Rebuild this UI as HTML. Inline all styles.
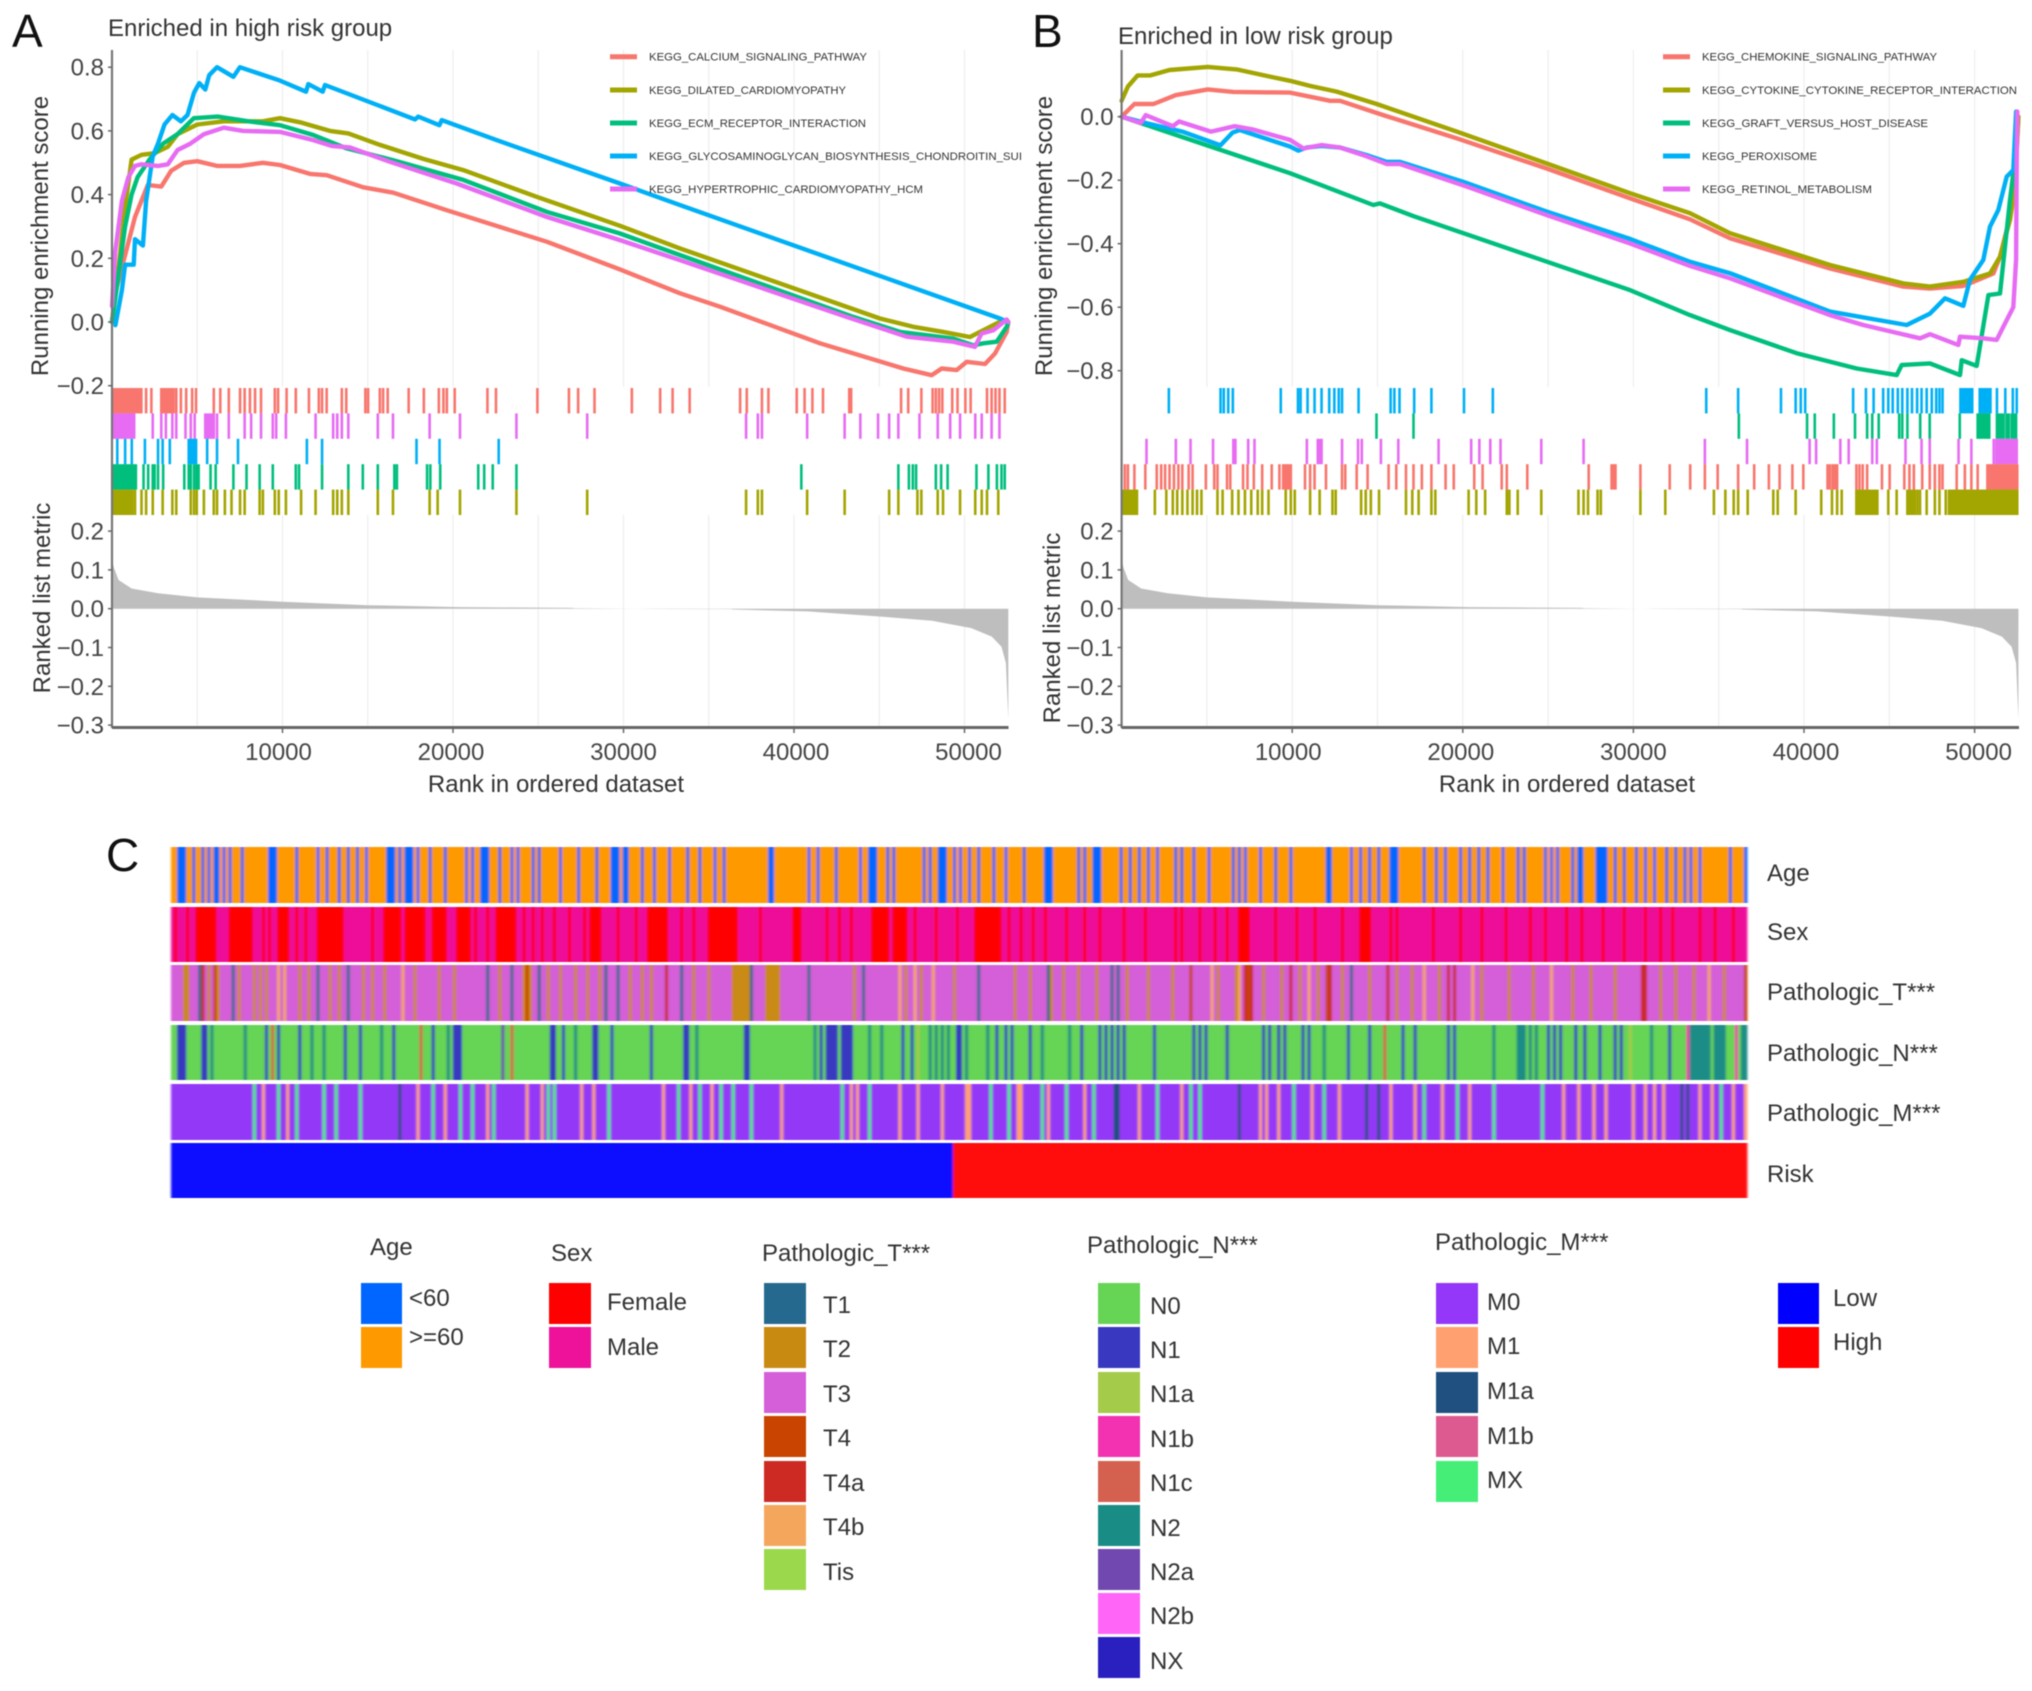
<!DOCTYPE html>
<html lang="en">
<head>
<meta charset="utf-8">
<title>GSEA enrichment and clinical heatmap</title>
<style>
html,body{margin:0;padding:0;background:#fff;}
svg{display:block;font-family:"Liberation Sans",sans-serif;filter:blur(0.55px);}
.tick{font-size:24px;fill:#444;}
.axt{font-size:24px;fill:#333;}
.ttl{font-size:24px;fill:#333;}
.let{font-size:46px;fill:#111;}
.key{font-size:11px;fill:#333;}
.lab{font-size:24px;fill:#333;}
</style>
</head>
<body>
<svg id="figure" xmlns="http://www.w3.org/2000/svg" width="2032" height="1691" viewBox="0 0 2032 1691">
<defs>
<filter id="stripeBlur" x="-1%" y="0%" width="102%" height="100%"><feGaussianBlur stdDeviation="1.1 0"/></filter>
</defs>
<rect x="0" y="0" width="2032" height="1691" fill="#fff"/>
<g id="panelA"></g>
<g id="panelB"></g>
<g id="heatmap" filter="url(#stripeBlur)"></g>

<text class="let" x="12" y="47">A</text>
<text class="let" x="1032" y="47">B</text>
<text class="let" x="106" y="871">C</text>
<text class="ttl" x="108" y="36">Enriched in high risk group</text>
<text class="ttl" x="1118" y="44">Enriched in low risk group</text>
<text class="axt" transform="translate(48,236) rotate(-90)" text-anchor="middle">Running enrichment score</text>
<text class="axt" transform="translate(50,598) rotate(-90)" text-anchor="middle">Ranked list metric</text>
<text class="axt" x="556" y="792" text-anchor="middle">Rank in ordered dataset</text>
<text class="axt" transform="translate(1052,236) rotate(-90)" text-anchor="middle">Running enrichment score</text>
<text class="axt" transform="translate(1060,628) rotate(-90)" text-anchor="middle">Ranked list metric</text>
<text class="axt" x="1567" y="792" text-anchor="middle">Rank in ordered dataset</text>

<g>
<text class="lab" x="1767" y="881">Age</text>
<text class="lab" x="1767" y="940">Sex</text>
<text class="lab" x="1767" y="1000">Pathologic_T***</text>
<text class="lab" x="1767" y="1061">Pathologic_N***</text>
<text class="lab" x="1767" y="1121">Pathologic_M***</text>
<text class="lab" x="1767" y="1182">Risk</text>
</g>

<g>
<text class="lab" x="370" y="1255">Age</text>
<rect x="361" y="1283" width="41" height="41" fill="#0066ff"/>
<rect x="361" y="1327" width="41" height="41" fill="#ff9900"/>
<text class="lab" x="409" y="1306">&lt;60</text>
<text class="lab" x="409" y="1345">&gt;=60</text>
</g>
<g>
<text class="lab" x="551" y="1261">Sex</text>
<rect x="549" y="1283" width="42" height="41" fill="#ff0000"/>
<rect x="549" y="1327" width="42" height="41" fill="#ee1199"/>
<text class="lab" x="607" y="1310">Female</text>
<text class="lab" x="607" y="1355">Male</text>
</g>
<g>
<text class="lab" x="762" y="1261">Pathologic_T***</text>
<rect x="764" y="1283" width="42" height="41" fill="#256a8e"/>
<rect x="764" y="1327" width="42" height="41" fill="#c98a12"/>
<rect x="764" y="1372" width="42" height="41" fill="#d45fd8"/>
<rect x="764" y="1416" width="42" height="41" fill="#c84400"/>
<rect x="764" y="1461" width="42" height="41" fill="#cc2a22"/>
<rect x="764" y="1505" width="42" height="41" fill="#f4a75c"/>
<rect x="764" y="1549" width="42" height="41" fill="#9cd84c"/>
<text class="lab" x="823" y="1313">T1</text>
<text class="lab" x="823" y="1357">T2</text>
<text class="lab" x="823" y="1402">T3</text>
<text class="lab" x="823" y="1446">T4</text>
<text class="lab" x="823" y="1491">T4a</text>
<text class="lab" x="823" y="1535">T4b</text>
<text class="lab" x="823" y="1580">Tis</text>
</g>
<g>
<text class="lab" x="1087" y="1253">Pathologic_N***</text>
<rect x="1098" y="1283" width="42" height="41" fill="#66d455"/>
<rect x="1098" y="1327" width="42" height="41" fill="#3838c0"/>
<rect x="1098" y="1372" width="42" height="41" fill="#a4cc4a"/>
<rect x="1098" y="1416" width="42" height="41" fill="#f232b0"/>
<rect x="1098" y="1461" width="42" height="41" fill="#d46050"/>
<rect x="1098" y="1505" width="42" height="41" fill="#1a8c86"/>
<rect x="1098" y="1549" width="42" height="41" fill="#7048b0"/>
<rect x="1098" y="1593" width="42" height="41" fill="#ff66f8"/>
<rect x="1098" y="1637" width="42" height="41" fill="#2a20c0"/>
<text class="lab" x="1150" y="1314">N0</text>
<text class="lab" x="1150" y="1358">N1</text>
<text class="lab" x="1150" y="1402">N1a</text>
<text class="lab" x="1150" y="1447">N1b</text>
<text class="lab" x="1150" y="1491">N1c</text>
<text class="lab" x="1150" y="1536">N2</text>
<text class="lab" x="1150" y="1580">N2a</text>
<text class="lab" x="1150" y="1624">N2b</text>
<text class="lab" x="1150" y="1669">NX</text>
</g>
<g>
<text class="lab" x="1435" y="1250">Pathologic_M***</text>
<rect x="1436" y="1283" width="42" height="41" fill="#9437f8"/>
<rect x="1436" y="1327" width="42" height="41" fill="#ffa070"/>
<rect x="1436" y="1372" width="42" height="41" fill="#1f5080"/>
<rect x="1436" y="1416" width="42" height="41" fill="#dd5a90"/>
<rect x="1436" y="1461" width="42" height="41" fill="#44ee77"/>
<text class="lab" x="1487" y="1310">M0</text>
<text class="lab" x="1487" y="1354">M1</text>
<text class="lab" x="1487" y="1399">M1a</text>
<text class="lab" x="1487" y="1444">M1b</text>
<text class="lab" x="1487" y="1488">MX</text>
</g>
<g>
<rect x="1778" y="1283" width="41" height="41" fill="#0000ff"/>
<rect x="1778" y="1327" width="41" height="41" fill="#ff0000"/>
<text class="lab" x="1833" y="1306">Low</text>
<text class="lab" x="1833" y="1350">High</text>
</g>
</svg>

<script>
/* ---------- shared axis values ---------- */
const rankTicks = [10000, 20000, 30000, 40000, 50000];
const rankGrid = [5000, 10000, 15000, 20000, 25000, 30000, 35000, 40000, 45000, 50000];
const scoreTicksA = [0.8, 0.6, 0.4, 0.2, 0.0, -0.2];
const scoreTicksB = [0.0, -0.2, -0.4, -0.6, -0.8];
const metricTicks = [0.2, 0.1, 0.0, -0.1, -0.2, -0.3];
const metricRanks = [0, 120, 385, 1150, 2700, 5000, 10000, 15000, 20400, 27000, 27100, 32000, 36300, 36400, 40800, 45000, 48100, 50400, 51600, 52170, 52430, 52570];
const metricValues = [0.125, 0.105, 0.074, 0.052, 0.04, 0.029, 0.018, 0.009, 0.004, 0.002, 0.0012, -0.0008, -0.001, -0.002, -0.007, -0.02, -0.031, -0.05, -0.072, -0.098, -0.14, -0.285];

/* ---------- panel A curves ---------- */
const calciumRanks = [0,190,770,1350,2100,2890,3470,4230,5000,6160,7500,8850,9853,11613,12590,14740,16500,19628,25493,29795,33313,35660,41525,46413,48075,48660,49540,50128,51200,51790,52473,52570];
const calciumScores = [0,0.09,0.21,0.33,0.43,0.425,0.475,0.50,0.505,0.49,0.49,0.50,0.493,0.465,0.461,0.423,0.406,0.351,0.252,0.165,0.09,0.048,-0.067,-0.146,-0.167,-0.146,-0.151,-0.125,-0.132,-0.099,-0.031,0];
const dilatedRanks = [0,385,770,1150,1730,2500,3270,3850,5000,6550,8850,9853,11026,12786,13860,15718,18260,20605,24907,29795,33313,45044,47000,48759,50323,51496,52277,52570];
const dilatedScores = [0,0.17,0.36,0.51,0.525,0.53,0.55,0.59,0.62,0.63,0.63,0.64,0.627,0.60,0.592,0.556,0.512,0.477,0.393,0.302,0.231,0.011,-0.015,-0.031,-0.047,-0.015,0.006,0];
const ecmRanks = [0,385,770,1150,1500,2200,3000,3850,4800,6200,8000,9853,11808,13763,16500,20605,25493,29795,33313,43480,46217,49345,50518,51100,51887,52473,52570];
const ecmScores = [0,0.15,0.30,0.40,0.455,0.51,0.56,0.59,0.64,0.645,0.63,0.618,0.587,0.545,0.508,0.446,0.346,0.278,0.21,0.016,-0.031,-0.052,-0.073,-0.067,-0.062,-0.015,0];
const glycoRanks = [200,580,770,1270,1350,1810,2000,2390,2700,3080,3540,4040,4430,4810,5120,5470,5700,6160,7120,7500,9853,11378,11515,12355,12490,17770,17966,19200,19335,22560,29795,33313,52082,52570];
const glycoScores = [-0.01,0.10,0.18,0.18,0.26,0.24,0.38,0.52,0.56,0.62,0.65,0.63,0.65,0.72,0.75,0.73,0.775,0.80,0.77,0.80,0.758,0.723,0.747,0.723,0.744,0.636,0.645,0.618,0.634,0.571,0.435,0.367,0.011,0];
const hcmRanks = [0,190,580,960,1350,1730,2700,3270,3850,4600,5400,6550,7700,9853,11808,12883,13959,16305,20215,25493,29795,33313,43089,46608,49345,50616,51000,51691,52473,52570];
const hcmScores = [0.05,0.22,0.38,0.455,0.49,0.495,0.49,0.495,0.54,0.56,0.59,0.61,0.60,0.597,0.571,0.553,0.548,0.503,0.435,0.33,0.257,0.194,0.016,-0.046,-0.062,-0.078,-0.036,-0.026,0.008,0];

/* ---------- panel A gene-hit ranks ---------- */
const calciumHits = [60,180,300,420,540,660,780,900,1020,1140,1260,1380,1500,1620,1720,2000,2310,2890,3010,3130,3250,3370,3490,3610,3770,4040,4350,4700,4930,5970,6350,6850,7510,7780,8090,8390,8740,9550,9740,10240,10780,11550,12130,12320,12590,13480,13740,14860,15020,15710,15900,16170,17400,18290,19170,19440,19640,20100,22020,22520,24950,26800,27340,28300,30490,32150,32880,33880,36840,37230,38120,38500,40160,40620,41080,41700,43240,43350,46280,46700,47470,48130,48320,48510,48700,49280,49590,50050,50360,51320,51590,51820,52050,52360];
const hcmHits = [100,220,340,460,580,700,820,940,1060,1180,1300,2390,2890,3160,3540,3770,4310,4620,4850,5470,5600,5700,5850,5970,6160,6850,7780,8160,8740,9430,9630,10200,11940,12970,13210,13480,13860,15590,16480,18630,20410,23720,27870,37190,37880,38120,40770,42970,43890,44930,45580,46120,47360,48430,49160,49740,50630,51010,51590,52050];
const glycoHits = [310,770,1160,1930,2700,2970,3390,4500,4620,4700,4820,4930,5580,6160,7390,11430,12320,17860,19210,22680];
const ecmHits = [100,220,340,460,580,700,820,940,1060,1180,1280,1400,1850,2120,2390,2500,2700,3000,4240,4500,4620,4810,4950,5080,5780,6080,7120,7890,8660,9430,10780,10970,12320,13860,14710,15590,16560,16710,18480,18670,19250,21480,21830,22330,23720,40430,46120,46740,46970,47160,48320,48630,49010,50700,51400,51900,52170,52360];
const dilatedHits = [100,220,340,460,580,700,820,940,1060,1200,1350,1730,2000,2390,2970,3540,3770,4620,4810,4970,5390,5970,6160,6620,7010,7510,7780,8660,8850,9550,9780,10200,11090,11940,12970,13210,13480,13860,15590,16480,18630,19100,20410,23720,27870,37190,37880,38120,40770,42970,45580,46120,47240,47470,48430,48740,49740,50630,51010,51320,51980];

/* ---------- panel B curves ---------- */
const chemokineRanks = [0,750,1870,3180,5050,6550,9871,11043,12216,12802,15342,19641,24916,29800,33319,35662,41524,45823,47386,49340,49926,51100,51489,52076,52370,52570];
const chemokineScores = [0,0.04,0.04,0.068,0.086,0.078,0.076,0.063,0.05,0.05,0.005,-0.068,-0.163,-0.257,-0.323,-0.383,-0.478,-0.535,-0.541,-0.533,-0.52,-0.494,-0.441,-0.315,-0.19,0];
const cytokineRanks = [0,370,940,1690,2810,5050,6740,8800,9871,11043,12607,14951,19641,24916,29800,33319,35662,41524,45823,47386,49340,50903,51489,52076,52370,52570];
const cytokineScores = [0.05,0.095,0.13,0.13,0.147,0.157,0.149,0.125,0.113,0.097,0.079,0.04,-0.047,-0.147,-0.241,-0.304,-0.367,-0.467,-0.525,-0.535,-0.52,-0.494,-0.441,-0.325,-0.22,0];
const graftRanks = [0,9871,14756,15147,17101,29800,33319,35662,39570,43087,45432,45725,47386,49144,49242,50122,50806,51489,52076,52370,52466];
const graftScores = [0,-0.178,-0.278,-0.273,-0.313,-0.546,-0.625,-0.672,-0.745,-0.793,-0.814,-0.782,-0.777,-0.814,-0.767,-0.785,-0.562,-0.557,-0.262,-0.136,0.016];
const peroxRanks = [0,1500,3560,5800,6500,6930,9871,10360,10848,11727,12802,14365,15537,16320,20032,24916,29800,33319,35662,41524,46018,47386,48265,49340,49726,50512,50903,51392,51880,52271,52430];
const peroxScores = [0,-0.021,-0.047,-0.09,-0.05,-0.042,-0.094,-0.107,-0.097,-0.092,-0.097,-0.121,-0.142,-0.142,-0.205,-0.299,-0.385,-0.457,-0.493,-0.614,-0.656,-0.62,-0.572,-0.596,-0.514,-0.451,-0.346,-0.294,-0.189,-0.168,0.016];
const retinolRanks = [0,1120,1420,3000,3370,5240,6630,7680,9871,10653,11727,12802,14170,15537,16320,20227,24916,29800,33319,35662,41524,43478,46800,47386,49047,49144,50512,51293,51984,52271,52430,52470,52505];
const retinolScores = [0,-0.02,0.005,-0.03,-0.015,-0.047,-0.03,-0.04,-0.073,-0.1,-0.089,-0.097,-0.121,-0.149,-0.149,-0.22,-0.31,-0.399,-0.47,-0.509,-0.625,-0.656,-0.698,-0.685,-0.719,-0.693,-0.698,-0.703,-0.63,-0.6,-0.45,-0.14,0.016];

/* ---------- panel B gene-hit ranks ---------- */
const peroxHits = [2770,5800,5990,6250,6520,9330,10340,10490,10900,11310,11720,12170,12470,12730,12920,13890,15770,15990,16290,17150,18160,20070,21760,34270,36140,38650,39510,39810,40070,42880,43630,44080,44640,44940,45200,45500,45760,46060,46330,46630,46890,47190,47490,47750,47940,48120,49170,49300,49400,49520,49640,49760,49860,50300,50400,50500,50600,50700,50820,50930,51310,51800,52240,52470];
const graftHits = [14940,17110,36180,40180,40630,41750,42990,43700,44000,44380,45580,45760,46060,46810,47370,49130,50180,50280,50370,50500,50630,50750,50860,51310,51440,51570,51700,51870,52000,52170,52300,52430];
const retinolHits = [1460,3180,4040,5360,6550,6670,7420,7790,10860,11500,11620,11720,12920,13860,14080,15200,16220,18580,20490,20970,21610,22210,24600,27080,34190,36660,40330,40710,42130,42620,44000,44270,45950,46890,47370,49060,49810,51120,51280,51420,51550,51680,51810,51940,52090,52240,52350,52470];
const chemokineHits = [190,370,750,1390,2060,2320,2550,2810,3070,3330,3560,3930,4160,4940,5430,5620,6180,6370,7120,7380,7750,8240,8800,9250,9470,9600,9700,9800,9920,10750,11050,11310,11980,12920,13110,13780,14420,15650,16100,16670,17110,17600,18160,18990,19470,20670,21160,22280,22580,23780,27380,28720,28850,28950,30410,32130,33330,34190,34940,36140,37080,37940,38570,39320,39960,41380,41520,41680,41810,41940,43070,43250,43440,43700,44570,45020,45880,46180,46440,46930,47370,47670,47940,48120,48950,49430,49810,50180,50750,50850,50950,51050,51150,51250,51350,51450,51550,51650,51750,51850,51950,52050,52150,52250,52350,52500];
const cytokineHits = [100,220,340,460,580,700,820,900,1950,2620,3000,3260,3560,3860,4160,4420,4680,5620,5920,6480,6850,7230,7600,7980,8240,8610,9620,9920,10150,11050,11610,12360,12550,14040,14310,14610,15090,16670,17040,17410,18160,18390,20340,20790,21310,22580,22730,23220,24600,26780,27080,27340,27900,28090,30410,31870,34720,35390,35880,36140,36700,38200,38460,39510,41010,41640,41940,42210,43070,43200,43300,43420,43550,43680,43800,43920,44050,44180,44300,44940,45430,46060,46180,46300,46400,46500,46650,46800,47190,47670,47940,48310,48500,48600,48700,48800,48900,49000,49100,49200,49300,49400,49500,49600,49700,49800,49900,50000,50100,50200,50300,50400,50500,50600,50700,50800,50900,51000,51100,51200,51300,51400,51500,51600,51700,51800,51900,52000,52100,52200,52300,52400,52500];

/* ---------- heatmap values (sample indices) ---------- */
const sampleCount = 520;
const lowRiskCount = 258;
const ageUnder60 = [2,3,4,7,10,12,14,15,17,19,23,32,33,34,41,48,51,55,58,61,64,71,72,73,75,77,78,79,81,85,90,97,99,102,103,104,108,112,114,119,121,128,134,140,145,146,147,149,150,155,159,164,170,174,179,182,197,198,210,213,219,227,230,231,232,236,238,248,250,253,254,255,258,260,263,266,271,275,281,288,289,290,299,301,304,305,306,313,316,319,322,325,331,333,337,342,350,352,354,359,364,369,381,382,389,392,395,398,402,403,404,413,417,420,425,428,431,434,439,444,446,453,455,457,462,464,465,470,471,472,473,476,479,483,486,489,493,496,499,501,504,514,519];
const sexFemale = [1,5,8,9,10,11,12,13,14,19,20,21,22,23,24,25,26,30,32,35,36,37,38,41,44,48,49,50,51,52,53,54,55,56,66,70,71,72,73,74,75,77,78,79,80,81,82,83,86,87,88,89,90,94,95,96,97,98,100,104,107,108,109,110,111,112,113,116,119,122,126,131,136,138,139,140,141,147,153,157,158,159,160,161,162,163,168,172,177,178,179,180,181,182,183,184,185,186,194,205,206,207,216,220,224,231,232,233,234,235,236,238,239,240,241,242,245,252,259,265,266,267,268,269,270,271,272,273,276,280,284,288,295,301,306,314,321,331,333,339,344,348,352,353,354,355,364,371,377,386,392,393,394,395,402,404,416,425,432,440,448,453,460,465,472,479,486,491,495,504,509,515];
const stageT1 = [9,20,48,58,104,112,121,143,147,168,191,210,228,266,289,310,312,389];
const stageT2 = [4,5,12,15,22,27,29,31,42,45,52,55,63,66,70,80,88,93,108,116,117,118,124,128,133,137,141,151,155,158,172,177,185,186,187,188,189,190,196,197,198,199,200,225,242,247,258,278,283,290,294,299,305,315,322,330,345,351,360,366,372,378,386,395,404,409,418,432,441,449,462,468,476,491,496,502,512];
const stageT4 = [14,117,336,355,381,519];
const stageT4a = [10,163,354,356,369,382,401,421,423,485,486];
const stageT4b = [35,37,76,240,245,251,343,352,375,413,429,455,507];
const stageN1 = [2,3,4,10,11,31,35,42,57,62,73,86,93,94,95,125,126,129,139,140,145,158,169,170,189,190,214,216,217,218,219,221,222,223,224,241,244,259,260,272,275,277,283,300,306,308,310,312,314,324,337,339,341,348,360,362,365,367,373,375,388,395,406,410,421,423,454,456,458,463,466,471,476,478,494];
const stageN1a = [246,481];
const stageN1b = [500,516];
const stageN1c = [33,82,112,400];
const stageN2 = [13,24,46,50,69,91,133,173,212,230,234,250,252,254,256,262,269,287,296,380,436,444,445,446,448,450,488,501,502,503,504,505,506,507,509,510,511,512,518,519];
const stageN2a = [109];
const stageM1 = [30,38,81,90,104,117,122,135,139,162,171,178,201,224,226,240,246,254,262,263,279,280,289,301,319,333,359,361,365,376,385,402,410,419,428,459,464,469,473,482,486,489,492,504,508,515,519];
const stageM1a = [75,311,312,352,394,398,498,500];
const stageMX = [27,35,41,50,54,62,86,95,99,106,124,126,144,167,174,181,185,191,221,230,270,276,287,295,304,325,336,339,370,380,413,424,436,452,511];

const NS = 'http://www.w3.org/2000/svg';
function make(tag, parent, attrs) {
  const node = document.createElementNS(NS, tag);
  for (const k in attrs) node.setAttribute(k, attrs[k]);
  parent.appendChild(node);
  return node;
}

function drawPanel(root, p) {
  const x = r => p.x0 + r * p.xs;
  const y = v => p.y0 - v * p.ys;
  const ym = v => 608.7 - v * 388;

  rankGrid.forEach(r => {
    let el = make('line', root, {x1:x(r),x2:x(r),y1:50,y2:387,stroke:'#eeeeee','stroke-width':1.2});
    
    
    el = make('line', root, {x1:x(r),x2:x(r),y1:515,y2:726,stroke:'#eeeeee','stroke-width':1.2});
    
    
  });

  p.rugs.forEach((row, i) => {
    const top = 388 + i * 25.4;
    row.hits.forEach(r => {
      const el = make('rect', root, {x:x(r)-1.3,y:top,width:2.6,height:25.4,fill:row.color});
      
      
    });
  });

  let d = 'M' + x(metricRanks[0]) + ' ' + ym(0);
  metricRanks.forEach((r, i) => { d += 'L' + x(r).toFixed(1) + ' ' + ym(metricValues[i]).toFixed(1); });
  d += 'L' + x(metricRanks[metricRanks.length-1]) + ' ' + ym(0) + 'Z';
  const area = make('path', root, {d:d,fill:'#bebebe'});
  
  

  p.curves.forEach(c => {
    const pts = c.ranks.map((r, i) => x(r).toFixed(1) + ',' + y(c.scores[i]).toFixed(1)).join(' ');
    const el = make('polyline', root, {points:pts,fill:'none',stroke:c.color,'stroke-width':4.4,'stroke-linejoin':'round','stroke-linecap':'round'});
    
    
  });

  const axisL = make('line', root, {x1:p.x0,x2:p.x0,y1:50,y2:728,stroke:'#777','stroke-width':2.2});
  
  
  const axisB = make('line', root, {x1:p.x0,x2:p.xEnd,y1:727.5,y2:727.5,stroke:'#666','stroke-width':3});
  
  

  p.scoreTicks.forEach(v => {
    const t = make('text', root, {x:p.x0-8,y:y(v)+8.5,'text-anchor':'end','class':'tick'});
    t.textContent = v.toFixed(1).replace('-', '\u2212');
    
    
    const m = make('line', root, {x1:p.x0-4,x2:p.x0,y1:y(v),y2:y(v),stroke:'#666','stroke-width':1.5});
    
    
  });
  metricTicks.forEach(v => {
    const t = make('text', root, {x:p.x0-8,y:ym(v)+8.5,'text-anchor':'end','class':'tick'});
    t.textContent = v.toFixed(1).replace('-', '\u2212');
    
    
    const m = make('line', root, {x1:p.x0-4,x2:p.x0,y1:ym(v),y2:ym(v),stroke:'#666','stroke-width':1.5});
    
    
  });
  rankTicks.forEach(r => {
    const t = make('text', root, {x:x(r)+(r-30000)/5000,y:760,'text-anchor':'middle','class':'tick'});
    t.textContent = String(r);
    
    
    const m = make('line', root, {x1:x(r),x2:x(r),y1:728,y2:733,stroke:'#666','stroke-width':1.5});
    
    
  });

  p.keys.forEach((k, i) => {
    const ky = [56.7, 90, 123, 156, 189][i];
    const l = make('line', root, {x1:p.keyX,x2:p.keyX+27,y1:ky,y2:ky,stroke:k.color,'stroke-width':5});
    
    
    const t = make('text', root, {x:p.keyX+39,y:ky+4,'class':'key',textLength:k.len,lengthAdjust:'spacingAndGlyphs'});
    t.textContent = k.name;
    
    
  });
}

const SALMON='#F8766D', OLIVE='#A3A500', GREEN='#00BF7D', BLUE='#00B0F6', PINK='#E76BF3';

drawPanel(document.getElementById('panelA'), {
  x0:112, xs:0.01705, xEnd:1008.5, y0:322, ys:318.5, scoreTicks:scoreTicksA, keyX:610,
  rugs:[{hits:calciumHits,color:SALMON},{hits:hcmHits,color:PINK},{hits:glycoHits,color:BLUE},{hits:ecmHits,color:GREEN},{hits:dilatedHits,color:OLIVE}],
  curves:[{ranks:calciumRanks,scores:calciumScores,color:SALMON},{ranks:dilatedRanks,scores:dilatedScores,color:OLIVE},{ranks:ecmRanks,scores:ecmScores,color:GREEN},{ranks:glycoRanks,scores:glycoScores,color:BLUE},{ranks:hcmRanks,scores:hcmScores,color:PINK}],
  keys:[{name:'KEGG_CALCIUM_SIGNALING_PATHWAY',color:SALMON,len:218},{name:'KEGG_DILATED_CARDIOMYOPATHY',color:OLIVE,len:197},{name:'KEGG_ECM_RECEPTOR_INTERACTION',color:GREEN,len:217},{name:'KEGG_GLYCOSAMINOGLYCAN_BIOSYNTHESIS_CHONDROITIN_SUI',color:BLUE,len:373},{name:'KEGG_HYPERTROPHIC_CARDIOMYOPATHY_HCM',color:PINK,len:274}]
});
drawPanel(document.getElementById('panelB'), {
  x0:1121.6, xs:0.01706, xEnd:2019, y0:116.7, ys:317.5, scoreTicks:scoreTicksB, keyX:1663,
  rugs:[{hits:peroxHits,color:BLUE},{hits:graftHits,color:GREEN},{hits:retinolHits,color:PINK},{hits:chemokineHits,color:SALMON},{hits:cytokineHits,color:OLIVE}],
  curves:[{ranks:chemokineRanks,scores:chemokineScores,color:SALMON},{ranks:cytokineRanks,scores:cytokineScores,color:OLIVE},{ranks:graftRanks,scores:graftScores,color:GREEN},{ranks:peroxRanks,scores:peroxScores,color:BLUE},{ranks:retinolRanks,scores:retinolScores,color:PINK}],
  keys:[{name:'KEGG_CHEMOKINE_SIGNALING_PATHWAY',color:SALMON,len:235},{name:'KEGG_CYTOKINE_CYTOKINE_RECEPTOR_INTERACTION',color:OLIVE,len:315},{name:'KEGG_GRAFT_VERSUS_HOST_DISEASE',color:GREEN,len:226},{name:'KEGG_PEROXISOME',color:BLUE,len:115},{name:'KEGG_RETINOL_METABOLISM',color:PINK,len:170}]
});

/* ---------- heatmap ---------- */
function rowFrom(baseColor, layers) {
  const cells = new Array(sampleCount).fill(baseColor);
  layers.forEach(l => l.samples.forEach(i => { cells[i] = l.color; }));
  return cells;
}
const heatRows = [
  {top:847, h:56, cells:rowFrom('#ff9900',[{samples:ageUnder60,color:'#0066ff'}])},
  {top:907, h:55, cells:rowFrom('#ee1199',[{samples:sexFemale,color:'#ff0000'}])},
  {top:965, h:56, cells:rowFrom('#d45fd8',[{samples:stageT1,color:'#256a8e'},{samples:stageT2,color:'#c98a12'},{samples:stageT4,color:'#c84400'},{samples:stageT4a,color:'#cc2a22'},{samples:stageT4b,color:'#f4a75c'}])},
  {top:1025, h:55, cells:rowFrom('#66d455',[{samples:stageN1,color:'#3838c0'},{samples:stageN1a,color:'#a4cc4a'},{samples:stageN1b,color:'#f232b0'},{samples:stageN1c,color:'#d46050'},{samples:stageN2,color:'#1a8c86'},{samples:stageN2a,color:'#7048b0'}])},
  {top:1084, h:56, cells:rowFrom('#9437f8',[{samples:stageM1,color:'#ffa070'},{samples:stageM1a,color:'#1f5080'},{samples:stageMX,color:'#44ee77'}])},
  {top:1143, h:55, cells:new Array(sampleCount).fill(0).map((_, i) => i < lowRiskCount ? '#0a0aff' : '#ff0a0a')}
];
const heatRoot = document.getElementById('heatmap');
const cellW = 1576 / sampleCount;
heatRows.forEach(row => {
  row.cells.forEach((color, i) => {
    const el = make('rect', heatRoot, {x:(171 + i * cellW).toFixed(2),y:row.top,width:(cellW + 0.4).toFixed(2),height:row.h,fill:color});
    
    
  });
});
</script>
</body>
</html>
